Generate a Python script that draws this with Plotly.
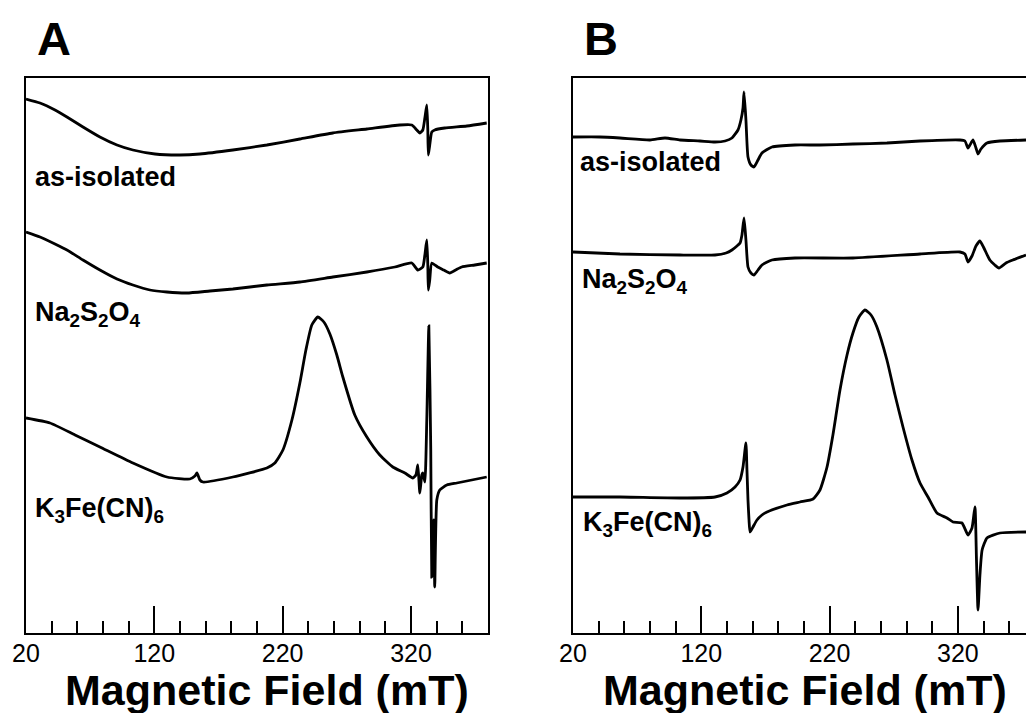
import plotly.graph_objects as go

# ---- EPR spectra, panel A (field in mT, stacked intensity in arb. units) ----
a_iso_field = [20.0, 30.9, 42.6, 51.9, 64.4, 77.6, 90.9, 103.3, 120.5, 139.9, 155.5, 181.2, 207.7,
               233.4, 259.1, 285.6, 311.3, 320.6, 324.5, 326.9, 329.2, 330.8, 332.3, 333.1, 333.5,
               334.6, 336.2, 338.5, 346.3, 363.5, 379.0]
a_iso_int = [534, 530, 523, 516, 506, 496, 488, 483, 479, 478, 479, 483, 488,
             494, 500, 504, 508, 508, 503, 500, 503, 515, 528, 503, 478,
             488, 501, 503, 505, 507, 510]

a_red_field = [20.0, 30.9, 42.6, 51.9, 64.4, 77.6, 90.9, 103.3, 116.6, 129.8, 145.4, 163.3, 181.2,
               207.7, 233.4, 259.1, 285.6, 307.4, 320.6, 325.3, 329.2, 330.8, 332.3, 333.1, 333.5,
               334.6, 336.2, 340.8, 345.5, 350.2, 354.8, 359.5, 369.7, 379.0]
a_red_int = [401, 396, 389, 383, 373, 363, 354, 348, 343, 341, 340, 342, 344,
             348, 351, 356, 361, 366, 370, 363, 366, 378, 393, 368, 343,
             353, 370, 366, 363, 360, 363, 366, 368, 370]

a_ox_field = [20.0, 38.7, 58.2, 77.6, 103.3, 129.8, 147.7, 151.6, 153.2, 155.5, 157.9, 181.2, 207.7,
              213.9, 220.2, 227.2, 233.4, 238.1, 242.7, 247.4, 252.1, 256.8, 262.2, 266.9, 276.2,
              285.6, 295.7, 305.8, 315.2, 321.4, 323.8, 325.3, 326.9, 328.4, 329.2, 330.8, 332.3,
              333.9, 335.4, 336.2, 337.8, 338.5, 340.1, 342.4, 347.9, 355.7, 379.0]
a_ox_int = [215, 210, 198, 186, 170, 156, 154, 157, 160, 153, 151, 156, 165,
            170, 183, 213, 250, 283, 308, 316, 311, 299, 278, 256, 218,
            196, 178, 166, 160, 155, 158, 168, 140, 158, 160, 151, 213,
            307, 183, 56, 113, 46, 133, 143, 148, 150, 156]

# ---- EPR spectra, panel B ----
b_iso_field = [20.0, 41.0, 56.6, 80.0, 91.7, 103.4, 119.0, 130.7, 138.5, 143.9, 148.6, 150.9, 152.5,
               153.3, 154.8, 156.4, 158.7, 161.1, 164.2, 167.3, 175.1, 193.0, 212.5, 238.2, 264.7,
               290.5, 321.6, 325.5, 327.9, 329.4, 331.8, 334.1, 335.7, 338.0, 342.7, 352.8, 373.1]
b_iso_int = [496, 496, 495, 493, 495, 493, 492, 491, 492, 495, 503, 513, 525,
             541, 513, 476, 468, 466, 473, 480, 486, 488, 488, 489, 490,
             492, 493, 492, 485, 488, 493, 485, 479, 484, 490, 492, 493]

b_red_field = [20.0, 56.6, 103.4, 130.7, 139.3, 143.9, 147.8, 150.2, 151.7, 153.3, 154.8, 156.4, 158.7,
               161.1, 164.2, 167.3, 175.1, 193.0, 238.2, 290.5, 321.6, 325.5, 327.9, 331.0, 334.1,
               337.2, 340.3, 344.9, 348.8, 352.0, 357.5, 362.9, 373.1]
b_red_int = [381, 379, 378, 378, 380, 383, 387, 390, 398, 415, 393, 366, 360,
             358, 363, 368, 373, 375, 375, 379, 381, 379, 371, 377, 387,
             392, 385, 373, 368, 365, 370, 373, 378]

b_ox_field = [20.0, 56.6, 103.4, 130.7, 140.0, 146.3, 150.2, 152.5, 154.8, 155.6, 156.4, 157.2, 158.0,
              160.3, 163.4, 167.3, 171.2, 186.8, 196.9, 207.1, 212.5, 218.0, 222.6, 228.1, 233.6,
              238.2, 242.9, 247.6, 252.3, 256.9, 264.7, 271.0, 277.2, 284.2, 290.5, 296.7, 303.7,
              311.5, 316.2, 323.2, 327.9, 331.0, 333.3, 334.5, 335.7, 337.2, 338.9, 342.7, 352.8, 373.1]
b_ox_int = [136, 136, 135, 136, 140, 146, 153, 166, 190, 163, 133, 113, 101,
            106, 113, 118, 121, 128, 131, 134, 143, 166, 198, 243, 278,
            300, 316, 323, 318, 306, 273, 238, 206, 173, 150, 136, 120,
            115, 111, 110, 98, 105, 126, 73, 23, 58, 83, 95, 100, 101]

sample_labels = ["as-isolated", "Na<sub>2</sub>S<sub>2</sub>O<sub>4</sub>", "K<sub>3</sub>Fe(CN)<sub>6</sub>"]
tick_vals = [20, 120, 220, 320]
tick_text = ["20", "120", "220", "320"]

W, H = 1026, 713
FONT = "Liberation Sans, Arial, Helvetica, sans-serif"


def px(x):
    return x / W


def py(y):
    return 1 - y / H


fig = go.Figure()
line_style = dict(color="black", width=2.8, shape="spline", smoothing=0.5)
for f, s in [(a_iso_field, a_iso_int), (a_red_field, a_red_int), (a_ox_field, a_ox_int)]:
    fig.add_trace(go.Scatter(x=f, y=s, mode="lines", line=line_style, xaxis="x", yaxis="y",
                             showlegend=False, hoverinfo="skip"))
for f, s in [(b_iso_field, b_iso_int), (b_red_field, b_red_int), (b_ox_field, b_ox_int)]:
    fig.add_trace(go.Scatter(x=f, y=s, mode="lines", line=line_style, xaxis="x2", yaxis="y2",
                             showlegend=False, hoverinfo="skip"))

xcommon = dict(
    tickmode="array", tickvals=tick_vals, ticktext=tick_text,
    ticks="inside", ticklen=27, tickwidth=2, tickcolor="black",
    minor=dict(dtick=20, tick0=20, ticks="inside", ticklen=12, tickwidth=1.5, tickcolor="black",
               showgrid=False),
    showline=True, linecolor="black", linewidth=2, mirror=True,
    showgrid=False, zeroline=False, automargin=False,
    ticklabelstandoff=-3,
    tickfont=dict(family=FONT, size=25, color="black"),
)
ycommon = dict(range=[0, 555], showticklabels=False, ticks="", showline=True, linecolor="black",
               linewidth=2, showgrid=False, zeroline=False, automargin=False,
               domain=[py(633), py(78)])

fig.update_layout(
    width=W, height=H,
    margin=dict(l=0, r=0, t=0, b=0, autoexpand=False),
    paper_bgcolor="white", plot_bgcolor="white",
    xaxis=dict(xcommon, range=[20, 380], domain=[px(26), px(488)], anchor="y"),
    xaxis2=dict(xcommon, range=[20, 373.1], domain=[px(573), 1.0], anchor="y2"),
    yaxis=dict(ycommon, mirror=True, anchor="x"),
    yaxis2=dict(ycommon, mirror=False, anchor="x2"),
)

ann = []
# panel letters
ann.append(dict(text="<b>A</b>", x=px(35), y=py(39), xanchor="left", yanchor="middle"))
ann.append(dict(text="<b>B</b>", x=px(582), y=py(39), xanchor="left", yanchor="middle"))
for a in ann:
    a.update(xref="paper", yref="paper", showarrow=False, font=dict(family=FONT, size=47, color="black"))

# axis titles
for cx in (267, 805):
    ann.append(dict(text="<b>Magnetic Field (mT)</b>", x=px(cx), y=py(690), xref="paper", yref="paper",
                    xanchor="center", yanchor="middle", showarrow=False,
                    font=dict(family=FONT, size=43, color="black")))

# sample labels
label_pos = [
    (33, 177), (33, 314), (33, 510),
    (578, 162), (580, 281), (581, 524),
]
for i, (lx, ly) in enumerate(label_pos):
    ann.append(dict(text="<b>" + sample_labels[i % 3] + "</b>", x=px(lx), y=py(ly), xref="paper",
                    yref="paper", xanchor="left", yanchor="middle", showarrow=False,
                    font=dict(family=FONT, size=27, color="black")))

fig.update_layout(annotations=ann)
fig.write_html("out.html")
